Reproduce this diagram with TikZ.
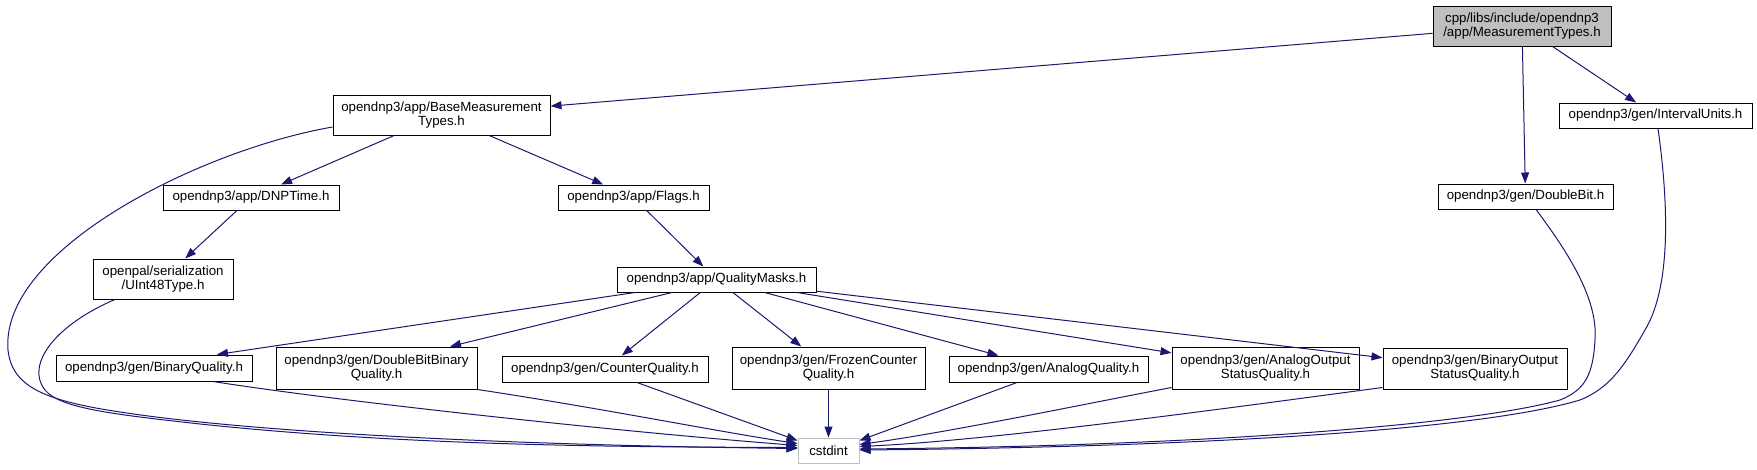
\documentclass[tikz,border=0pt]{standalone}
\usepackage{fontspec}
\setmainfont{Liberation Sans}
\usepackage{xcolor}
\definecolor{depline}{HTML}{191970}
\definecolor{depgray}{HTML}{BFBFBF}
\usepackage{tikz}
\usetikzlibrary{arrows.meta,calc}
\tikzset{
  depbox/.style={draw=black,line width=1pt,fill=white,inner sep=0pt,align=center,font=\fontsize{13.3}{14}\selectfont},
  deproot/.style={depbox,fill=depgray},
  depext/.style={depbox,draw=depgray},
  depflow/.style={draw=depline,line width=1pt,-{Triangle[length=11pt,width=8pt]}},
}
\begin{document}
\begin{tikzpicture}[x=1pt,y=-1pt]
\useasboundingbox (0,0) rectangle (1757,469);
\node[deproot,minimum width=178pt,minimum height=40pt] (mt) at (1522,26) {cpp/libs/include/opendnp3\\/app/MeasurementTypes.h};
\node[depbox,minimum width=217pt,minimum height=40pt] (bmt) at (441.5,115) {opendnp3/app/BaseMeasurement\\Types.h};
\node[depbox,minimum width=193pt,minimum height=25pt] (iu) at (1655.5,115.5) {opendnp3/gen/IntervalUnits.h};
\node[depbox,minimum width=176pt,minimum height=25pt] (dnp) at (251,197.5) {opendnp3/app/DNPTime.h};
\node[depbox,minimum width=151pt,minimum height=25pt] (fl) at (633.5,197.5) {opendnp3/app/Flags.h};
\node[depbox,minimum width=175pt,minimum height=25pt] (db) at (1525.5,196.5) {opendnp3/gen/DoubleBit.h};
\node[depbox,minimum width=140pt,minimum height=40pt] (ui) at (163,279) {openpal/serialization\\/UInt48Type.h};
\node[depbox,minimum width=199pt,minimum height=25pt] (qm) at (716.5,279.5) {opendnp3/app/QualityMasks.h};
\node[depbox,minimum width=196pt,minimum height=26pt] (bq) at (154,368) {opendnp3/gen/BinaryQuality.h};
\node[depbox,minimum width=201pt,minimum height=42pt] (dbbq) at (376.5,368) {opendnp3/gen/DoubleBitBinary\\Quality.h};
\node[depbox,minimum width=206pt,minimum height=26pt] (cq) at (605,369) {opendnp3/gen/CounterQuality.h};
\node[depbox,minimum width=193pt,minimum height=42pt] (fcq) at (828.5,368) {opendnp3/gen/FrozenCounter\\Quality.h};
\node[depbox,minimum width=199pt,minimum height=26pt] (aq) at (1048.5,369) {opendnp3/gen/AnalogQuality.h};
\node[depbox,minimum width=187pt,minimum height=42pt] (aosq) at (1265.5,368) {opendnp3/gen/AnalogOutput\\StatusQuality.h};
\node[depbox,minimum width=184pt,minimum height=41pt] (bosq) at (1475,368.5) {opendnp3/gen/BinaryOutput\\StatusQuality.h};
\node[depext,minimum width=61pt,minimum height=25pt] (cs) at (828.5,450.5) {cstdint};
\draw[depflow](mt)--(bmt);
\draw[depflow](mt)--(db);
\draw[depflow](mt)--(iu);
\draw[depflow](bmt)--(dnp);
\draw[depflow](bmt)--(fl);
\draw[depflow](dnp)--(ui);
\draw[depflow](fl)--(qm);
\draw[depflow]($(qm.south)+(-81.5,0)$)--($(bq.north)+(63,0)$);
\draw[depflow]($(qm.south)+(-44.5,0)$)--($(dbbq.north)+(73.5,0)$);
\draw[depflow](qm)--(cq);
\draw[depflow](qm)--(fcq);
\draw[depflow](qm)--(aq);
\draw[depflow](qm)--(aosq);
\draw[depflow](qm)--(bosq);
\draw[depflow]($(bmt.west)+(0,12)$) .. controls (200,150) and (0,250) .. (8,350) .. controls (12,385) and (40,400) .. (120,412) .. controls (250,432) and (500,445) .. ($(cs.west)+(0,-2)$);
\draw[depflow]($(ui.south)+(-48,0)$) .. controls (55,325) and (25,365) .. (45,390) .. controls (60,408) and (110,414) .. (200,424) .. controls (400,445) and (600,447) .. ($(cs.west)+(0,-3)$);
\draw[depflow]($(bq.south)+(59,0)$) .. controls (330,400) and (600,430) .. ($(cs.west)+(0,-5)$);
\draw[depflow](dbbq.south east) .. controls (600,408) and (720,432) .. ($(cs.west)+(0,-7)$);
\draw[depflow]($(cq.south)+(32,0)$)--($(cs.north west)+(0,3)$);
\draw[depflow](fcq)--(cs);
\draw[depflow]($(aq.south)+(-31.5,0)$)--($(cs.north east)+(0,3)$);
\draw[depflow]($(aosq.south west)+(0,-2)$) .. controls (1080,405) and (950,432) .. ($(cs.east)+(0,-6)$);
\draw[depflow]($(bosq.south west)+(0,-2)$) .. controls (1250,405) and (1000,440) .. ($(cs.east)+(0,-4)$);
\draw[depflow]($(db.south)+(10.5,0)$) .. controls (1570,255) and (1598,300) .. (1595,340) .. controls (1593,375) and (1585,390) .. (1560,400) .. controls (1470,425) and (1200,446) .. ($(cs.east)+(0,-1.5)$);
\draw[depflow]($(iu.south)+(2.5,0)$) .. controls (1668,200) and (1672,285) .. (1645,330) .. controls (1625,365) and (1610,388) .. (1580,400) .. controls (1480,430) and (1200,447) .. ($(cs.east)+(0,-0.5)$);
\end{tikzpicture}
\end{document}
